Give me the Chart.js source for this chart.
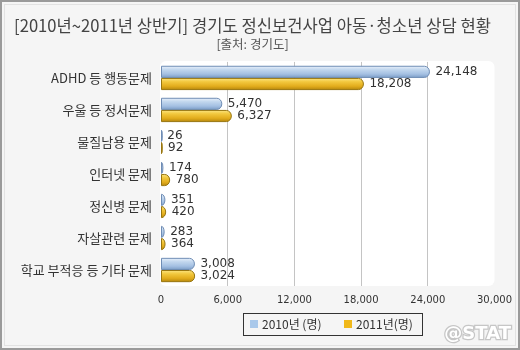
<!DOCTYPE html>
<html>
<head>
<meta charset="utf-8">
<script src="https://cdn.jsdelivr.net/npm/chart.js@4/dist/chart.umd.min.js"></script>
<style>
html,body{margin:0;padding:0;background:#f5f5f5;}
canvas{display:block;}
</style>
</head>
<body>
<canvas id="c" width="520" height="350"></canvas>
<script>
const categories = ['ADHD 등 행동문제','우울 등 정서문제','물질남용 문제','인터넷 문제','정신병 문제','자살관련 문제','학교 부적응 등 기타 문제'];
const series2010 = [24148,5470,26,174,351,283,3008];
const series2011 = [18208,6327,92,780,420,364,3024];
const seriesNames = ['2010년 (명)','2011년(명)'];
const xTickValues = [0,6000,12000,18000,24000,30000];
const titleText = '[2010년~2011년 상반기] 경기도 정신보건사업 아동·청소년 상담 현황';
const subtitleText = '[출처: 경기도]';
const watermarkText = '@STAT';

const FONT = "'Noto Sans CJK KR', 'Noto Sans', sans-serif";
const NUMFONT = "'DejaVu Sans', sans-serif";
const styles = [
  {stops:['#e6effa','#c2d7ee','#a4c0e2','#7f9fc9'], border:'#6f8db5', swatch:'#a9c8ea'},
  {stops:['#fbe37e','#f2c83e','#e2ac1c','#b8890e'], border:'#987610', swatch:'#f0b81a'}
];

function barPath(ctx, x0, x1, yT, yB){
  const w = Math.max(x1 - x0, 0.8);
  const h = yB - yT;
  const rx = Math.min(5, w);
  const cy = (yT + yB) / 2;
  ctx.beginPath();
  ctx.moveTo(x0, yT);
  ctx.lineTo(x0 + w - rx, yT);
  ctx.ellipse(x0 + w - rx, cy, rx, h/2, 0, -Math.PI/2, Math.PI/2);
  ctx.lineTo(x0, yB);
  ctx.closePath();
}

const deco = {
  id: 'deco',
  beforeDraw(chart){
    const ctx = chart.ctx, a = chart.chartArea;
    ctx.save();
    ctx.fillStyle = '#f5f5f5';
    ctx.fillRect(0,0,chart.width,chart.height);
    ctx.strokeStyle = '#9a9a9a';
    ctx.lineWidth = 2;
    ctx.strokeRect(1,1,chart.width-2,chart.height-2);
    ctx.strokeStyle = '#e2e2e2';
    ctx.lineWidth = 1;
    ctx.strokeRect(4.5,4.5,chart.width-9,chart.height-9);
    ctx.fillStyle = '#ffffff';
    ctx.beginPath();
    ctx.roundRect(a.left-1, a.top-1, a.right-a.left+1, a.bottom-a.top+1, 6);
    ctx.fill();
    ctx.restore();
  },
  afterDatasetsDraw(chart){
    const ctx = chart.ctx;
    ctx.save();
    chart.data.datasets.forEach((ds, di) => {
      const meta = chart.getDatasetMeta(di);
      const st = styles[di];
      meta.data.forEach((el, i) => {
        const yT = el.y - el.height/2 + 0.5, yB = el.y + el.height/2 - 0.5;
        const x0 = el.base, x1 = el.x;
        const g = ctx.createLinearGradient(0, yT, 0, yB);
        g.addColorStop(0, st.stops[0]);
        g.addColorStop(0.3, st.stops[1]);
        g.addColorStop(0.7, st.stops[2]);
        g.addColorStop(1, st.stops[3]);
        barPath(ctx, x0, x1, yT, yB);
        ctx.fillStyle = g;
        ctx.fill();
        ctx.strokeStyle = st.border;
        ctx.lineWidth = 1;
        ctx.stroke();
        ctx.fillStyle = '#333333';
        ctx.font = '12px ' + NUMFONT;
        ctx.textBaseline = 'middle';
        ctx.textAlign = 'left';
        ctx.fillText(ds.data[i].toLocaleString('en-US'), x1 + 6, el.y);
      });
    });
    ctx.restore();
  },
  afterDraw(chart){
    const ctx = chart.ctx;
    ctx.save();
    ctx.strokeStyle = '#333333';
    ctx.lineWidth = 1;
    ctx.strokeRect(243.5, 313.5, 179, 22);
    ctx.font = '12px ' + FONT;
    ctx.textBaseline = 'middle';
    ctx.textAlign = 'left';
    const lx = [250, 344];
    chart.data.datasets.forEach((ds, di) => {
      ctx.fillStyle = styles[di].swatch;
      ctx.fillRect(lx[di], 320, 8, 8);
      ctx.fillStyle = '#333333';
      ctx.fillText(ds.label, lx[di] + 12, 324.5);
    });
    ctx.font = 'bold 18px "DejaVu Sans", sans-serif';
    ctx.textAlign = 'right';
    ctx.lineWidth = 2.5;
    ctx.strokeStyle = '#c6c6c6';
    ctx.strokeText(watermarkText, 511, 334);
    ctx.fillStyle = '#ffffff';
    ctx.fillText(watermarkText, 511, 334);
    ctx.restore();
  }
};

new Chart(document.getElementById('c'), {
  type: 'bar',
  data: {
    labels: categories,
    datasets: [
      {label: seriesNames[0], data: series2010, backgroundColor: 'rgba(0,0,0,0)', borderWidth: 0},
      {label: seriesNames[1], data: series2011, backgroundColor: 'rgba(0,0,0,0)', borderWidth: 0}
    ]
  },
  options: {
    indexAxis: 'y',
    responsive: false,
    animation: false,
    devicePixelRatio: 1,
    categoryPercentage: 0.76,
    barPercentage: 1,
    layout: {padding: {left: 0, right: 15, top: 0, bottom: 42}},
    plugins: {
      legend: {display: false},
      tooltip: {enabled: false},
      title: {display: true, text: titleText, color: '#444444', font: {family: FONT, size: 16.6, weight: 'normal'}, padding: {top: 16, bottom: 1}},
      subtitle: {display: true, text: subtitleText, color: '#555555', font: {family: FONT, size: 12.5, weight: 'normal'}, padding: {top: 0, bottom: 10}}
    },
    scales: {
      x: {
        min: 0, max: 30000,
        afterBuildTicks(scale){ scale.ticks = xTickValues.map(v => ({value: v})); },
        afterFit(scale){ scale.height = 22; },
        grid: {
          drawTicks: false,
          color: (c) => (c.tick && (c.tick.value === 0 || c.tick.value === 30000)) ? 'rgba(0,0,0,0)' : '#c4c4c4'
        },
        border: {display: false},
        ticks: {padding: 8, color: '#333333', font: {family: NUMFONT, size: 10}, callback: (v) => Number(v).toLocaleString('en-US'), maxRotation: 0, autoSkip: false}
      },
      y: {
        afterFit(scale){ scale.width = 161; },
        grid: {display: false, drawTicks: false},
        border: {display: false},
        ticks: {padding: 9, color: '#333333', font: {family: FONT, size: 13}, autoSkip: false}
      }
    }
  },
  plugins: [deco]
});
</script>
</body>
</html>
